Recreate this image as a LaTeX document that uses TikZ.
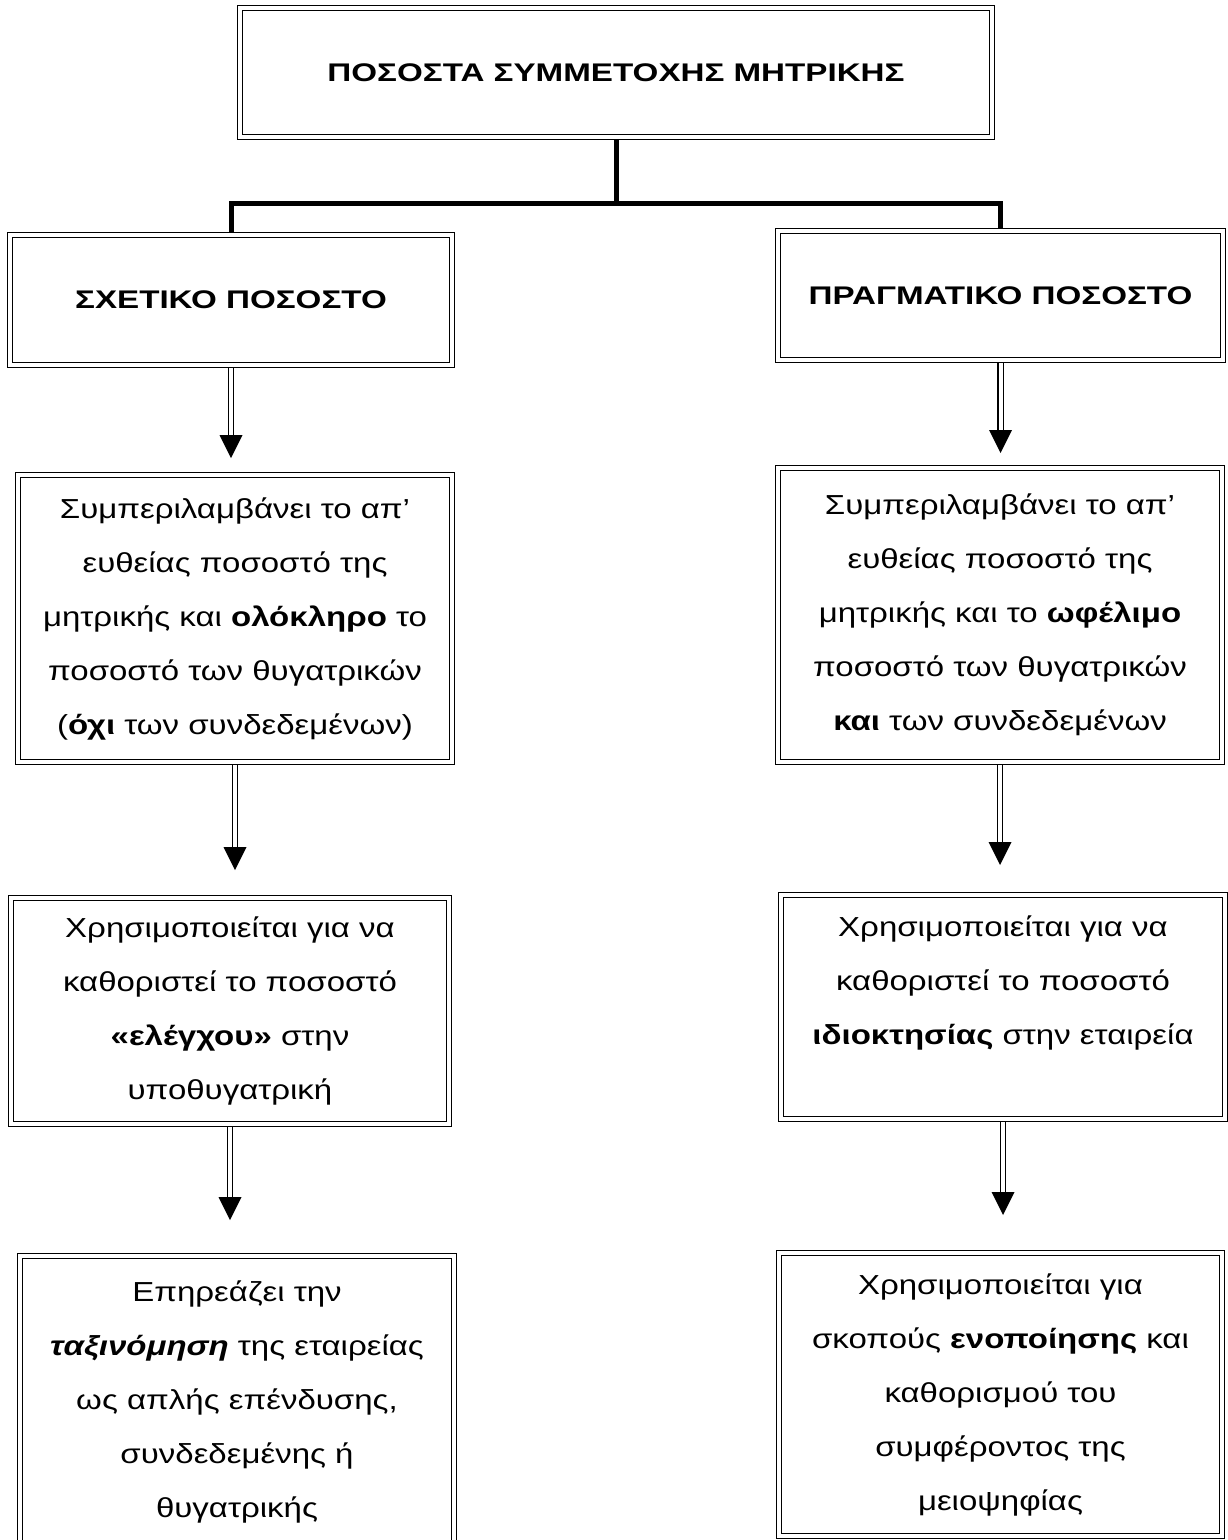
\documentclass[tikz,border=0pt]{standalone}
\usepackage{fontspec}
\setmainfont{Liberation Sans}[FakeStretch=1.2]
\newfontfamily\headfont{Liberation Sans}[FakeStretch=1.3]
\usetikzlibrary{calc}

% double-framed box; outer sep puts the anchors on the outer frame line
\tikzset{
  framebox/.style={draw, double, double distance=3.5pt, line width=1.3pt,
    inner sep=0pt, outer sep=3.05pt, align=center},
  headtext/.style={font=\headfont\bfseries\fontsize{25.5}{30}\selectfont},
  bodytext/.style={font=\fontsize{27.5}{54}\selectfont},
  trunk/.style={draw, line width=5pt, line join=miter},
  shaft/.style={draw, double, double distance=4pt, line width=1.4pt},
}

% double-shafted arrow from the bottom of #1 towards the top of #2, tip #3pt above it
\newcommand\flowarrow[3]{%
  \draw[shaft] let \p1=(#1.south), \p2=(#2.north) in
    (\x1,\y1) -- (\x1,\y2+#3pt+20pt);
  \fill let \p1=(#1.south), \p2=(#2.north) in
    (\x1,\y2+#3pt) -- ++(-11.5pt,23pt) -- ++(23pt,0pt) -- cycle;}

\begin{document}
\begin{tikzpicture}[x=1pt,y=-1pt]
\path[use as bounding box] (0,0) rectangle (1228,1540);
\clip (0,0) rectangle (1228,1540);

% top level
\node[framebox, headtext, minimum width=751.9pt, minimum height=128.9pt]
  (top) at (616,72.5) {ΠΟΣΟΣΤΑ ΣΥΜΜΕΤΟΧΗΣ ΜΗΤΡΙΚΗΣ};

% the two kinds of percentage
\node[framebox, headtext, minimum width=441.9pt, minimum height=129.9pt]
  (rel) at (231,300) {ΣΧΕΤΙΚΟ ΠΟΣΟΣΤΟ};
\node[framebox, headtext, minimum width=444.9pt, minimum height=128.9pt]
  (real) at (1000.5,295.5) {ΠΡΑΓΜΑΤΙΚΟ ΠΟΣΟΣΤΟ};

% left column
\node[framebox, bodytext, minimum width=433.9pt, minimum height=286.9pt]
  (relinc) at (235,618.5)
  {Συμπεριλαμβάνει το απ’\\ ευθείας ποσοστό της\\
   μητρικής και \textbf{ολόκληρο} το\\ ποσοστό των θυγατρικών\\
   (\textbf{όχι} των συνδεδεμένων)};
\node[framebox, bodytext, minimum width=437.9pt, minimum height=225.9pt]
  (reluse) at (230,1011)
  {Χρησιμοποιείται για να\\ καθοριστεί το ποσοστό\\
   \textbf{«ελέγχου»} στην\\ υποθυγατρική};
\node[framebox, bodytext, minimum width=433.9pt, minimum height=290.9pt]
  (releff) at (237,1401.5)
  {Επηρεάζει την\\ \textbf{\textit{ταξινόμηση}} της εταιρείας\\
   ως απλής επένδυσης,\\ συνδεδεμένης ή\\ θυγατρικής};

% right column
\node[framebox, bodytext, minimum width=443.9pt, minimum height=293.9pt]
  (realinc) at (1000,615)
  {Συμπεριλαμβάνει το απ’\\ ευθείας ποσοστό της\\
   μητρικής και το \textbf{ωφέλιμο}\\ ποσοστό των θυγατρικών\\
   \textbf{και} των συνδεδεμένων};
\node[framebox, bodytext, minimum width=443.9pt, minimum height=223.9pt]
  (realuse) at (1003,1007)
  {Χρησιμοποιείται για να\\ καθοριστεί το ποσοστό\\
   \textbf{ιδιοκτησίας} στην εταιρεία\\ \mbox{}};
\node[framebox, bodytext, minimum width=442.9pt, minimum height=282.9pt]
  (realeff) at (1000.5,1394.5)
  {Χρησιμοποιείται για\\ σκοπούς \textbf{ενοποίησης} και\\
   καθορισμού του\\ συμφέροντος της\\ μειοψηφίας};

% branching connector
\coordinate (fork) at (616,203);
\draw[trunk] (top.south) -- (fork);
\draw[trunk] (rel.north) |- (fork) -| (real.north);

% flow arrows
\flowarrow{rel}{relinc}{14}
\flowarrow{relinc}{reluse}{25}
\flowarrow{reluse}{releff}{33}
\flowarrow{real}{realinc}{12}
\flowarrow{realinc}{realuse}{27}
\flowarrow{realuse}{realeff}{35}
\end{tikzpicture}
\end{document}
